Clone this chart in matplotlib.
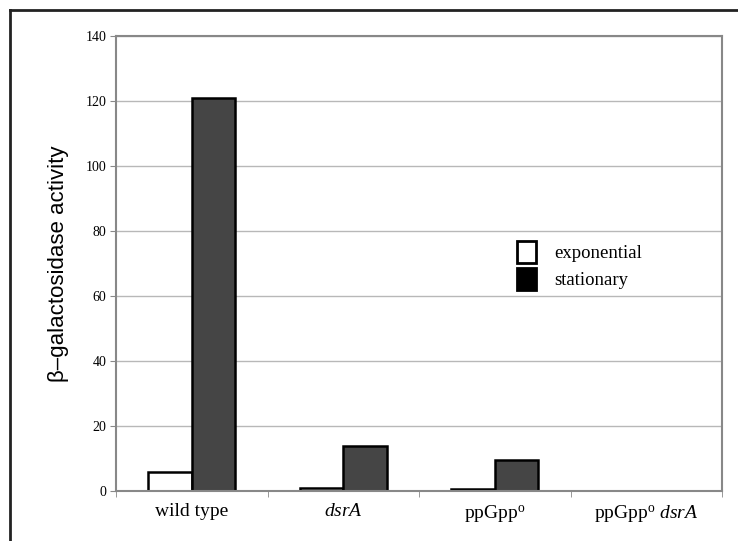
import numpy as np
import matplotlib
matplotlib.use("Agg")
from matplotlib import pyplot as plt
from matplotlib.patches import Patch
from matplotlib.lines import Line2D

strains = ["wild type", "$\\it{dsrA}$", "ppGpp$^{\\rm o}$", "ppGpp$^{\\rm o}$ $\\it{dsrA}$"]
exponential = [6, 0.8, 0.6, 0]
stationary = [121, 14, 9.5, 0]

plt.rcParams["font.family"] = "Liberation Serif"
plt.rcParams["mathtext.fontset"] = "custom"
plt.rcParams["mathtext.rm"] = "Liberation Serif"
plt.rcParams["mathtext.it"] = "Liberation Serif:italic"

fig = plt.figure(figsize=(7.38, 5.41), dpi=100)
ax = fig.add_axes([116 / 738, 1 - 491 / 541, (722 - 116) / 738, (491 - 36) / 541])

x = np.arange(len(strains))
w = 0.287
ax.bar(x - w / 2, exponential, w, color="white", edgecolor="black", linewidth=1.8, zorder=3)
ax.bar(x + w / 2, stationary, w, color="#454545", edgecolor="black", linewidth=1.8, zorder=3)

ax.set_xlim(-0.5, 3.5)
ax.set_ylim(0, 140)
ax.set_yticks(np.arange(0, 141, 20))
ax.yaxis.grid(True, color="#b8b8b8", linewidth=1)
ax.set_axisbelow(True)

# category labels centred, ticks on the boundaries
ax.set_xticks(x)
ax.set_xticklabels(strains, fontsize=14)
ax.set_xticks(np.arange(-0.5, 4, 1), minor=True)
ax.tick_params(axis="x", which="major", length=0, pad=9)
ax.tick_params(axis="x", which="minor", length=4, color="#888888", direction="out")
ax.tick_params(axis="y", length=4, color="#888888", labelsize=10, pad=3)

for s in ax.spines.values():
    s.set_color("#888888")
    s.set_linewidth(1.5)
    s.set_zorder(4)

ax.set_ylabel("β–galactosidase activity", family="Liberation Sans", fontsize=16, labelpad=12)

handles = [Patch(facecolor="white", edgecolor="black", linewidth=2),
           Patch(facecolor="black", edgecolor="black", linewidth=2)]
fig.legend(handles, ["exponential", "stationary"], loc="upper left",
           bbox_to_anchor=(500 / 738, 1 - 224 / 541), frameon=False, fontsize=13.5,
           handlelength=1.0, handleheight=1.4, handletextpad=1.0, labelspacing=0.3)

# outer frame
fig.add_artist(Line2D([10 / 738, 10 / 738], [0, 1 - 10 / 541], color="#222222", linewidth=2))
fig.add_artist(Line2D([10 / 738, 1], [1 - 10 / 541, 1 - 10 / 541], color="#222222", linewidth=2))

fig.savefig("out.png", dpi=100)
